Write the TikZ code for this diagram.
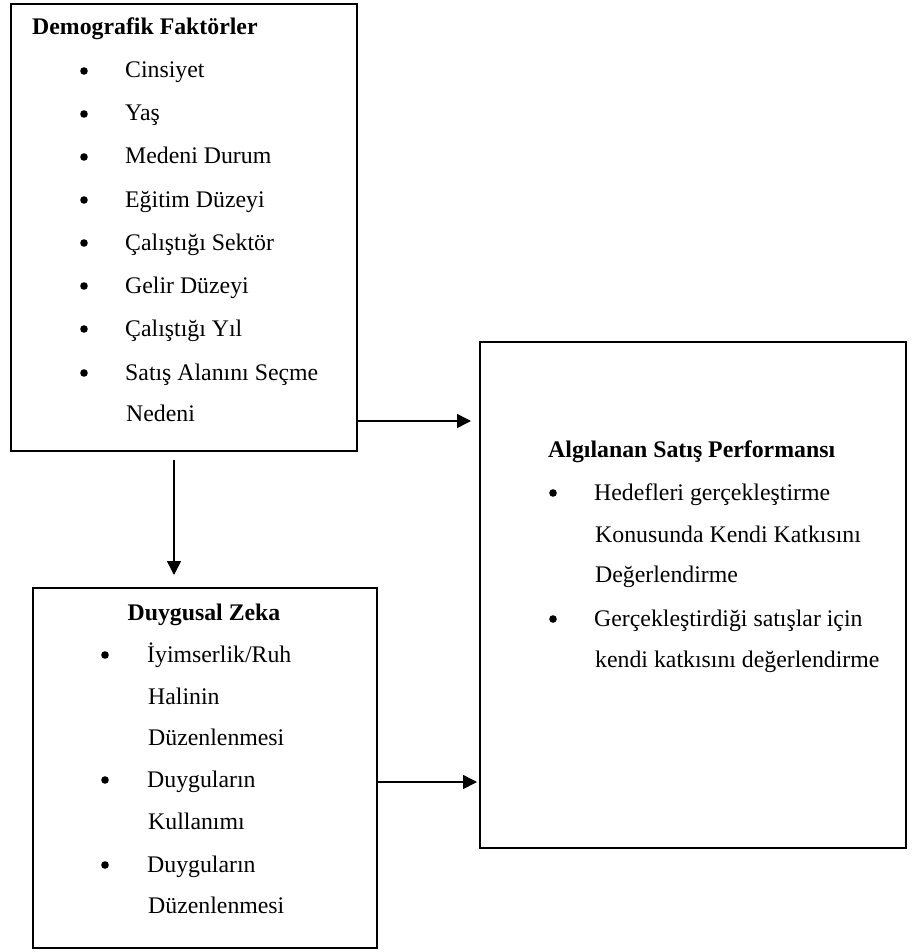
\documentclass[tikz,border=0pt]{standalone}
\usepackage{fontspec}
\setmainfont{Liberation Serif}
\usetikzlibrary{arrows.meta}
\begin{document}
\begin{tikzpicture}[x=1pt,y=-1pt]
\tikzset{
 boxnode/.style={draw, line width=1.6pt, inner sep=0pt, anchor=north west},
 txt/.style={anchor=base west, inner sep=0pt, font=\fontsize{23.8}{28}\selectfont},
 ttl/.style={anchor=base west, inner sep=0pt, font=\fontsize{23.8}{28}\selectfont\bfseries},
 ttlc/.style={anchor=base, inner sep=0pt, font=\fontsize{23.8}{28}\selectfont\bfseries},
 bul/.style={circle, fill=black, inner sep=0pt, minimum size=7.6pt, yshift=7pt},
 conn/.style={line width=1.6pt, -{Triangle[length=14pt,width=14pt]}}
}
\useasboundingbox (0,0) rectangle (915,952);
% boxes
\node[boxnode, minimum width=346pt, minimum height=447pt] (demo) at (10,3) {};
\node[boxnode, minimum width=344pt, minimum height=360pt] (duy) at (32,587) {};
\node[boxnode, minimum width=426pt, minimum height=506pt] (alg) at (479,341) {};
% Demografik
\node[ttl] (dt) at (32,35) {Demografik Faktörler};
\node[bul] (db1) at (84,78) {};  \node[txt] (d1) at (125,78) {Cinsiyet};
\node[bul] (db2) at (84,121) {}; \node[txt] (d2) at (125,121) {Yaş};
\node[bul] (db3) at (84,164) {}; \node[txt] (d3) at (125,164) {Medeni Durum};
\node[bul] (db4) at (84,207) {}; \node[txt] (d4) at (125,207) {Eğitim Düzeyi};
\node[bul] (db5) at (84,250) {}; \node[txt] (d5) at (125,250) {Çalıştığı Sektör};
\node[bul] (db6) at (84,293) {}; \node[txt] (d6) at (125,293) {Gelir Düzeyi};
\node[bul] (db7) at (84,336) {}; \node[txt] (d7) at (125,336) {Çalıştığı Yıl};
\node[bul] (db8) at (84,380) {}; \node[txt] (d8) at (125,380) {Satış Alanını Seçme};
\node[txt] (d9) at (126,421) {Nedeni};
% Duygusal Zeka
\node[ttlc] (zt) at (204,620) {Duygusal Zeka};
\node[bul] (zb1) at (105,662) {}; \node[txt] (z1) at (147,662) {İyimserlik/Ruh};
\node[txt] (z2) at (148,704) {Halinin};
\node[txt] (z3) at (148,745) {Düzenlenmesi};
\node[bul] (zb2) at (105,787) {}; \node[txt] (z4) at (147,787) {Duyguların};
\node[txt] (z5) at (148,829) {Kullanımı};
\node[bul] (zb3) at (105,872) {}; \node[txt] (z6) at (147,872) {Duyguların};
\node[txt] (z7) at (148,913) {Düzenlenmesi};
% Algilanan
\node[ttl] (at) at (548,457) {Algılanan Satış Performansı};
\node[bul] (ab1) at (553,500) {}; \node[txt] (a1) at (594,500) {Hedefleri gerçekleştirme};
\node[txt] (a2) at (595,542) {Konusunda Kendi Katkısını};
\node[txt] (a3) at (595,582) {Değerlendirme};
\node[bul] (ab2) at (553,626) {}; \node[txt] (a4) at (594,626) {Gerçekleştirdiği satışlar için};
\node[txt] (a5) at (595,667) {kendi katkısını değerlendirme};
% connectors
\coordinate (r1) at (0,421);
\coordinate (r2) at (0,782);
\coordinate (c1) at (174,0);
\draw[conn, shorten >=8pt] (demo.east |- r1) -- (alg.west |- r1);
\draw[conn, shorten >=2pt] (duy.east |- r2) -- (alg.west |- r2);
\draw[conn, shorten <=8pt, shorten >=12pt] (demo.south -| c1) -- (duy.north -| c1);
\end{tikzpicture}
\end{document}
